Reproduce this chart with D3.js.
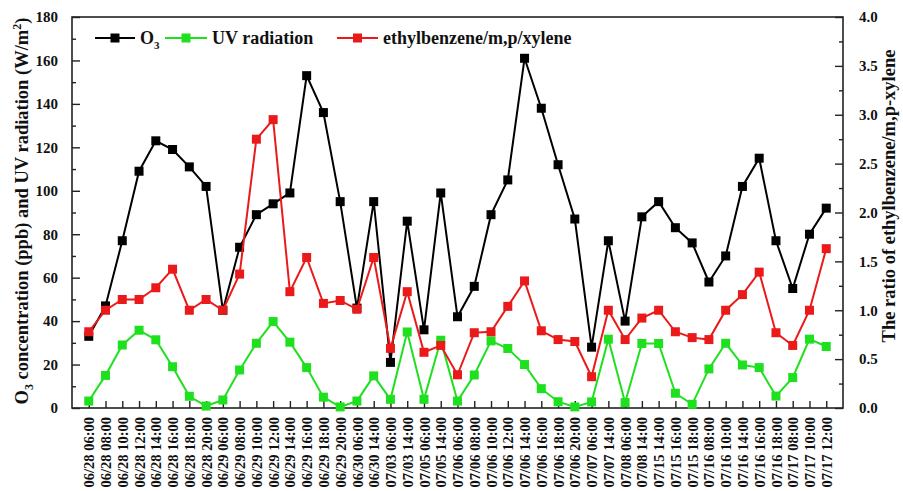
<!DOCTYPE html>
<html>
<head>
<meta charset="utf-8">
<script src="https://cdn.jsdelivr.net/npm/d3@7/dist/d3.min.js"></script>
<style>
  html, body { margin: 0; padding: 0; background: #fff; }
  svg text { font-family: "Liberation Serif", "Times New Roman", serif; font-weight: bold; }
</style>
</head>
<body>
<div id="chart"></div>
<script>
const categories = [
  '06/28 06:00', '06/28 08:00', '06/28 10:00', '06/28 12:00', '06/28 14:00', '06/28 16:00', '06/28 18:00', '06/28 20:00',
  '06/29 06:00', '06/29 08:00', '06/29 10:00', '06/29 12:00', '06/29 14:00', '06/29 16:00', '06/29 18:00', '06/29 20:00',
  '06/30 06:00', '06/30 14:00', '07/03 06:00', '07/03 14:00', '07/05 06:00', '07/05 14:00',
  '07/06 06:00', '07/06 08:00', '07/06 10:00', '07/06 12:00', '07/06 14:00', '07/06 16:00', '07/06 18:00', '07/06 20:00',
  '07/07 06:00', '07/07 14:00', '07/08 06:00', '07/08 14:00',
  '07/15 14:00', '07/15 16:00', '07/15 18:00',
  '07/16 08:00', '07/16 10:00', '07/16 14:00', '07/16 16:00', '07/16 18:00',
  '07/17 08:00', '07/17 10:00', '07/17 12:00'
];

const o3 = [33, 47, 77, 109, 123, 119, 111, 102, 45, 74, 89, 94, 99, 153, 136, 95,
  46, 95, 21, 86, 36, 99, 42, 56, 89, 105, 161, 138, 112, 87,
  28, 77, 40, 88, 95, 83, 76, 58, 70, 102, 115, 77, 55, 80, 92];

const uv = [3.2, 15, 29, 35.8, 31.4, 19, 5.4, 0.9, 3.7, 17.5, 29.8, 39.8, 30.3, 18.6, 5, 0.5,
  3.2, 14.8, 4, 35, 4, 31.2, 3.2, 15.2, 30.9, 27.4, 20, 8.9, 2.9, 0.5,
  2.8, 31.7, 2.5, 29.7, 29.7, 6.8, 1.7, 18, 29.8, 19.8, 18.6, 5.5, 14, 31.7, 28.3];

const ratio = [0.78, 1.0, 1.11, 1.11, 1.23, 1.42, 1.0, 1.11, 1.0, 1.37, 2.75, 2.95, 1.19, 1.54, 1.07, 1.1,
  1.01, 1.54, 0.61, 1.19, 0.57, 0.64, 0.34, 0.77, 0.78, 1.04, 1.3, 0.79, 0.7, 0.68,
  0.32, 1.0, 0.7, 0.92, 1.0, 0.78, 0.72, 0.7, 1.0, 1.16, 1.39, 0.77, 0.64, 1.0, 1.63];

const leftTicks = [0, 20, 40, 60, 80, 100, 120, 140, 160, 180];
const rightTicks = [0, 0.5, 1.0, 1.5, 2.0, 2.5, 3.0, 3.5, 4.0];

const width = 903, height = 491;
const margin = { top: 17, right: 60, bottom: 83, left: 72 };
const plotW = width - margin.left - margin.right;
const plotH = height - margin.top - margin.bottom;

const svg = d3.select('#chart').append('svg')
  .attr('width', width)
  .attr('height', height);

const g = svg.append('g').attr('transform', `translate(${margin.left},${margin.top})`);

const x = d3.scalePoint().domain(categories).range([0, plotW]).padding(1);
const yL = d3.scaleLinear().domain([0, 180]).range([plotH, 0]);
const yR = d3.scaleLinear().domain([0, 4]).range([plotH, 0]);

// frame
g.append('rect')
  .attr('width', plotW).attr('height', plotH)
  .attr('fill', 'none').attr('stroke', '#222').attr('stroke-width', 1.6);

// left axis, ticks inward
const leftAxis = g.append('g')
  .call(d3.axisLeft(yL).tickValues(leftTicks).tickSize(-8).tickPadding(14).tickFormat(d3.format('d')));
leftAxis.select('.domain').remove();
leftAxis.selectAll('text').attr('font-size', 15).attr('fill', '#111');
leftAxis.selectAll('line').attr('stroke', '#222').attr('stroke-width', 1.4);
g.append('g')
  .call(d3.axisLeft(yL).tickValues(d3.range(10, 180, 20)).tickSize(-4).tickFormat(''))
  .call(a => a.select('.domain').remove())
  .selectAll('line').attr('stroke', '#222').attr('stroke-width', 1.4);

// right axis, ticks inward
const rightAxis = g.append('g').attr('transform', `translate(${plotW},0)`)
  .call(d3.axisRight(yR).tickValues(rightTicks).tickSize(-8).tickPadding(16).tickFormat(d3.format('.1f')));
rightAxis.select('.domain').remove();
rightAxis.selectAll('text').attr('font-size', 15).attr('fill', '#111');
rightAxis.selectAll('line').attr('stroke', '#222').attr('stroke-width', 1.4);
g.append('g').attr('transform', `translate(${plotW},0)`)
  .call(d3.axisRight(yR).tickValues(d3.range(0.25, 4, 0.5)).tickSize(-4).tickFormat(''))
  .call(a => a.select('.domain').remove())
  .selectAll('line').attr('stroke', '#222').attr('stroke-width', 1.4);

// bottom axis
const bottomAxis = g.append('g').attr('transform', `translate(0,${plotH})`)
  .call(d3.axisBottom(x).tickSize(-7).tickPadding(0));
bottomAxis.select('.domain').remove();
bottomAxis.selectAll('line').attr('stroke', '#222').attr('stroke-width', 1.4);
bottomAxis.selectAll('text')
  .attr('font-size', 14.5)
  .attr('fill', '#111')
  .attr('text-anchor', 'end')
  .attr('transform', 'translate(0,9) rotate(-90)')
  .attr('x', 0)
  .attr('y', 0)
  .attr('dy', '0.35em');

// series
const series = [
  { name: 'O3', values: o3, y: yL, color: '#000000' },
  { name: 'UV radiation', values: uv, y: yL, color: '#1fe01f' },
  { name: 'ethylbenzene/m,p/xylene', values: ratio, y: yR, color: '#ea1a1a' }
];

const ms = 9;
series.forEach(s => {
  const line = d3.line()
    .x((d, i) => x(categories[i]))
    .y(d => s.y(d));
  g.append('path')
    .datum(s.values)
    .attr('fill', 'none')
    .attr('stroke', s.color)
    .attr('stroke-width', 2)
    .attr('d', line);
  g.selectAll(null)
    .data(s.values)
    .join('rect')
    .attr('x', (d, i) => x(categories[i]) - ms / 2)
    .attr('y', d => s.y(d) - ms / 2)
    .attr('width', ms)
    .attr('height', ms)
    .attr('fill', s.color);
});

// legend
const legendY = 38;
const legendItems = [
  { x0: 95, x1: 135, tx: 140, s: series[0] },
  { x0: 165, x1: 207, tx: 212, s: series[1] },
  { x0: 337, x1: 378, tx: 383, s: series[2] }
];
legendItems.forEach(it => {
  svg.append('line')
    .attr('x1', it.x0).attr('x2', it.x1)
    .attr('y1', legendY).attr('y2', legendY)
    .attr('stroke', it.s.color).attr('stroke-width', 2);
  svg.append('rect')
    .attr('x', (it.x0 + it.x1) / 2 - ms / 2)
    .attr('y', legendY - ms / 2)
    .attr('width', ms).attr('height', ms)
    .attr('fill', it.s.color);
  const t = svg.append('text')
    .attr('x', it.tx)
    .attr('y', legendY + 6)
    .attr('font-size', 18)
    .attr('fill', '#111');
  if (it.s.name === 'O3') {
    t.append('tspan').text('O');
    t.append('tspan').attr('font-size', 11).attr('dy', 5).text('3');
  } else {
    t.text(it.s.name);
  }
});

// left axis title
const lt = svg.append('text')
  .attr('transform', 'translate(28,211) rotate(-90)')
  .attr('text-anchor', 'middle')
  .attr('font-size', 18.5)
  .attr('fill', '#111');
lt.append('tspan').text('O');
lt.append('tspan').attr('font-size', 12).attr('dy', 5).text('3');
lt.append('tspan').attr('dy', -5).text(' concentration (ppb) and UV radiation (W/m');
lt.append('tspan').attr('font-size', 12).attr('dy', -7).text('2');
lt.append('tspan').attr('dy', 7).text(')');

// right axis title
svg.append('text')
  .attr('transform', 'translate(895,196) rotate(-90)')
  .attr('text-anchor', 'middle')
  .attr('font-size', 18.5)
  .attr('fill', '#111')
  .text('The ratio of ethylbenzene/m,p-xylene');
</script>
</body>
</html>
